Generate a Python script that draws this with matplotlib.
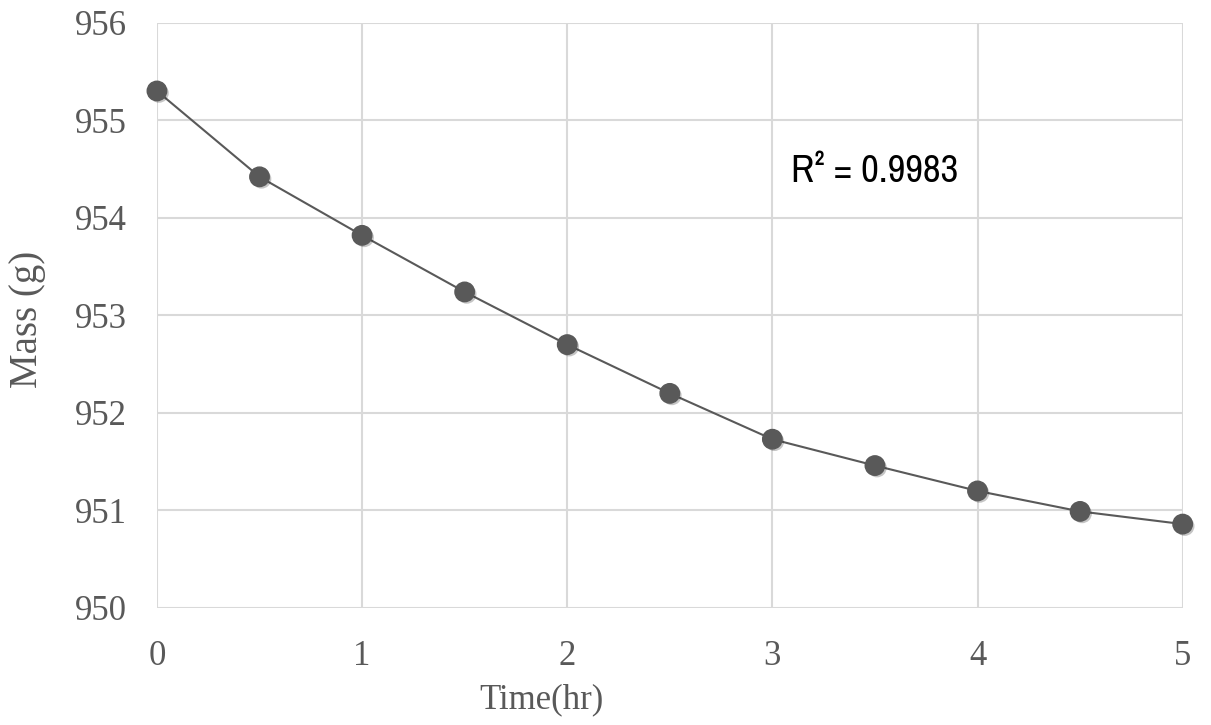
import matplotlib.pyplot as plt
import matplotlib.patheffects as pe
from matplotlib import font_manager

# data
time_hr = [0, 0.5, 1, 1.5, 2, 2.5, 3, 3.5, 4, 4.5, 5]
mass_g = [955.30, 954.42, 953.82, 953.24, 952.70, 952.20,
          951.73, 951.46, 951.20, 950.99, 950.86]
r2_label = 'R² = 0.9983'

GRAY = '#595959'
GRID = '#d9d9d9'

serif = ['Liberation Serif', 'DejaVu Serif']

# look for a narrow sans face for the R² box, fall back to Liberation Sans
narrow, stretch = 'Liberation Sans', 'normal'
for f in font_manager.fontManager.ttflist:
    if 'Narrow' in f.name or 'Condensed' in f.name:
        narrow = f.name
        break
    if f.name == 'DejaVu Sans' and str(f.stretch) in ('condensed', 'semi-condensed'):
        narrow, stretch = 'DejaVu Sans', 'condensed'

fig = plt.figure(figsize=(12.11, 7.25), dpi=100)
ax = fig.add_axes([0.1296, 0.1614, 0.8470, 0.8073])

ax.plot(time_hr, mass_g, color=GRAY, linewidth=1.5, zorder=3, clip_on=False)
ax.plot(time_hr, mass_g, linestyle='none', marker='o', markersize=14,
        markerfacecolor=GRAY, markeredgecolor=GRAY, zorder=4, clip_on=False,
        path_effects=[pe.SimplePatchShadow(offset=(1.5, -1.5), alpha=0.25), pe.Normal()])

ax.set_xlim(0, 5)
ax.set_ylim(950, 956)
ax.set_xticks(range(0, 6))
ax.set_yticks(range(950, 957))
ax.grid(True, color=GRID, linewidth=1.5)
ax.set_axisbelow(True)
for s in ax.spines.values():
    s.set_visible(False)
ax.tick_params(length=0, labelsize=25, labelcolor=GRAY)
ax.tick_params(axis='y', pad=22)
ax.tick_params(axis='x', pad=23)
for lbl in ax.get_xticklabels() + ax.get_yticklabels():
    lbl.set_family(serif)

# axis titles sit where the reference puts them (x title is left of centre)
fig.text(541 / 1211, 1 - 700 / 725, 'Time(hr)', fontsize=25, color=GRAY,
         family=serif, ha='center', va='center')
fig.text(28 / 1211, 1 - 319 / 725, 'Mass (g)', fontsize=28, color=GRAY,
         family=serif, ha='center', va='center', rotation=90)

ax.text(3.5, 954.47, r2_label, ha='center', va='center', fontsize=28,
        family=[narrow, 'DejaVu Sans'], fontstretch=stretch, color='black', zorder=5)

fig.savefig('out.png', dpi=100)
